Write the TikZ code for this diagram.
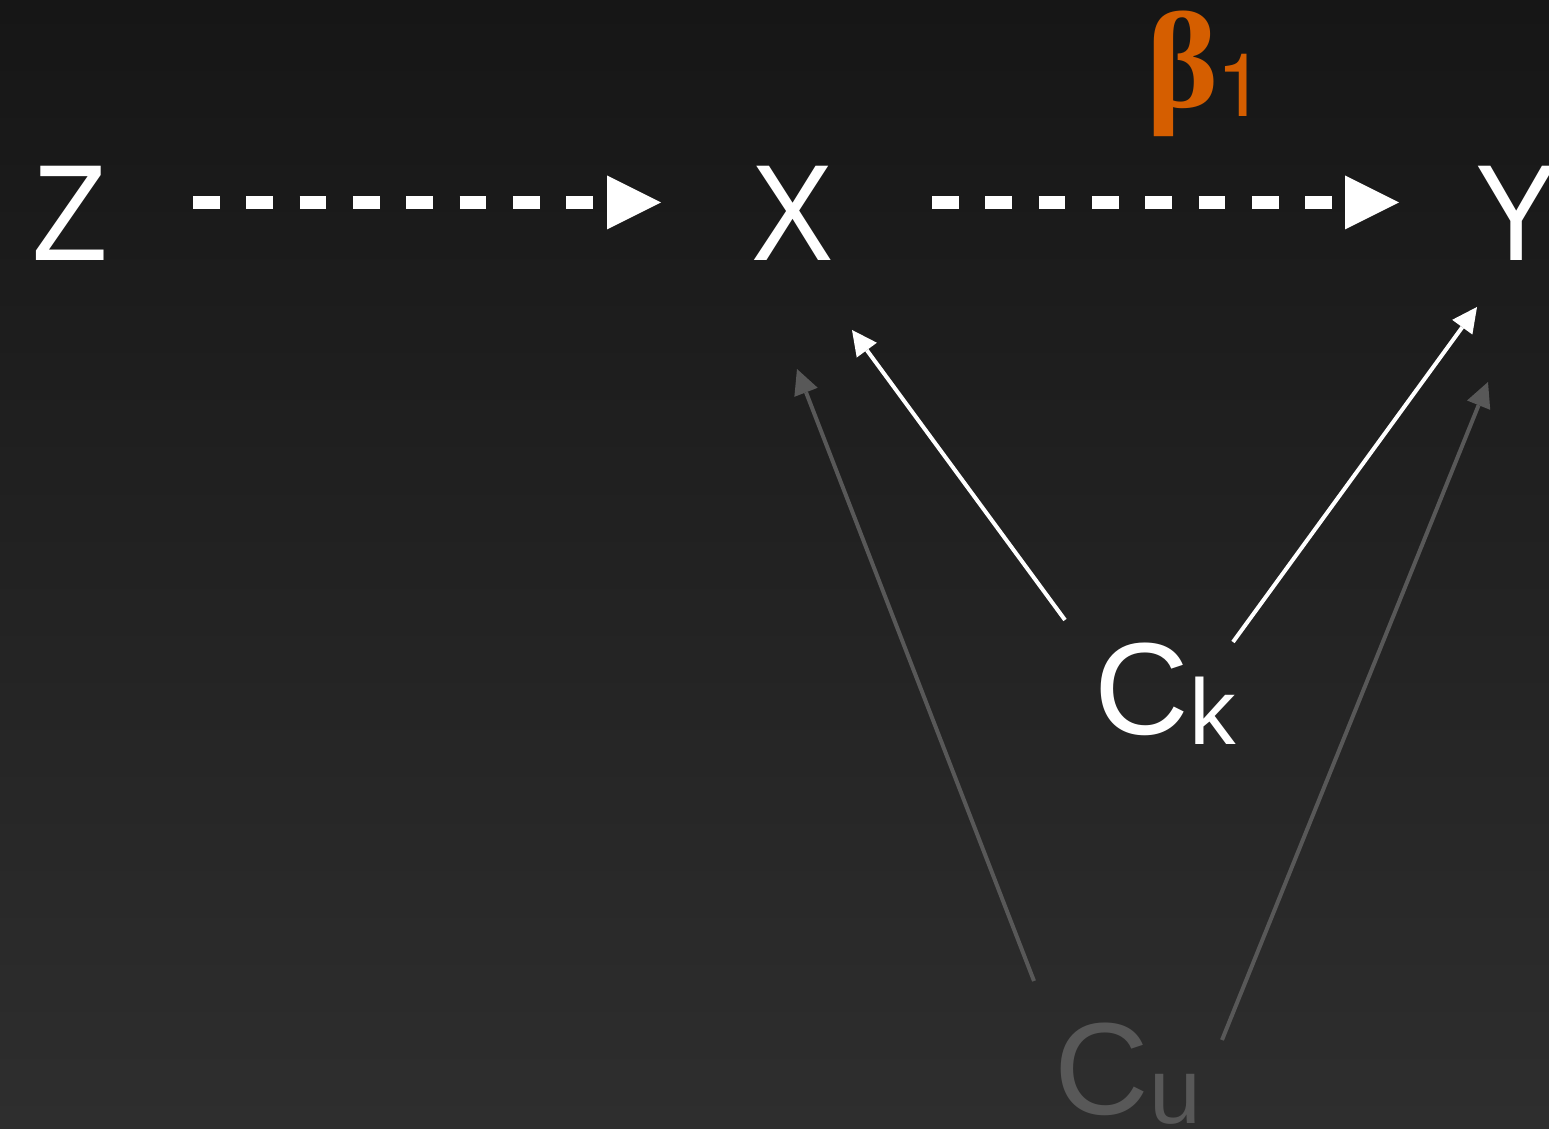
\documentclass[tikz,border=0pt]{standalone}
\usepackage{fontspec}
\setmainfont{Liberation Sans}
\newfontfamily\narrowsans[FakeStretch=0.9]{Liberation Sans}
\newfontfamily\subsans{Liberation Sans}
\newfontfamily\heros{TeX Gyre Heros}
\newfontfamily\betaserif{Liberation Serif}
\usetikzlibrary{arrows.meta}
\definecolor{orng}{HTML}{D55E00}
\definecolor{gry}{HTML}{585858}
\definecolor{bgtop}{HTML}{161616}
\definecolor{bgbot}{HTML}{2E2E2E}
\begin{document}
\begin{tikzpicture}[
  lbl/.style={inner sep=0pt, anchor=base west, font=\fontsize{37.3}{40}\selectfont, text=white},
  varlbl/.style={lbl, font=\narrowsans\fontsize{39}{42}\selectfont},
  dasharrow/.style={white, line width=0.13cm, dash pattern=on 0.267cm off 0.266cm,
    -{Triangle[length=0.54cm,width=0.54cm,line width=0pt]}},
  thinarrow/.style={line width=0.04cm, -{Triangle[length=0.25cm,width=0.25cm,line width=0pt]}},
]
\shade[top color=bgtop, bottom color=bgbot] (0,0) rectangle (15.49,11.29);
\useasboundingbox (0,0) rectangle (15.49,11.29);

\node[varlbl] (Z) at (0.32,8.68) {Z};
\node[varlbl] (X) at (7.51,8.68) {X};
\node[varlbl] (Y) at (14.75,8.68) {Y};
\node[lbl, text=orng] (B) at (11.46,10.21) {{\betaserif\bfseries\fontsize{39}{42}\selectfont β}\hspace{-0.02cm}\raisebox{-0.09cm}{\heros\fontsize{25}{27}\selectfont 1}};
\node[lbl] (Ck) at (10.94,3.94) {C\raisebox{-0.10cm}{\subsans\fontsize{26.5}{28}\selectfont k}};
\node[lbl, text=gry] (Cu) at (10.54,0.14) {C\raisebox{-0.09cm}{\subsans\fontsize{26.5}{28}\selectfont u}};

\draw[dasharrow]
  ([xshift=1.61cm,yshift=0.585cm]Z.base west) -- ([xshift=-0.90cm,yshift=0.585cm]X.base west);
\draw[dasharrow]
  ([xshift=1.81cm,yshift=0.585cm]X.base west) -- ([xshift=-0.76cm,yshift=0.585cm]Y.base west);

\draw[thinarrow, white] ([shift={(-0.29,1.15)}]Ck.base west) -- ([shift={(1.01,-0.69)}]X.base west);
\draw[thinarrow, white] ([shift={(1.39,0.93)}]Ck.base west) -- ([shift={(0.02,-0.46)}]Y.base west);
\draw[thinarrow, gry] ([shift={(-0.20,1.34)}]Cu.base west) -- ([shift={(0.46,-1.08)}]X.base west);
\draw[thinarrow, gry] ([shift={(1.68,0.75)}]Cu.base west) -- ([shift={(0.13,-1.21)}]Y.base west);
\end{tikzpicture}
\end{document}
